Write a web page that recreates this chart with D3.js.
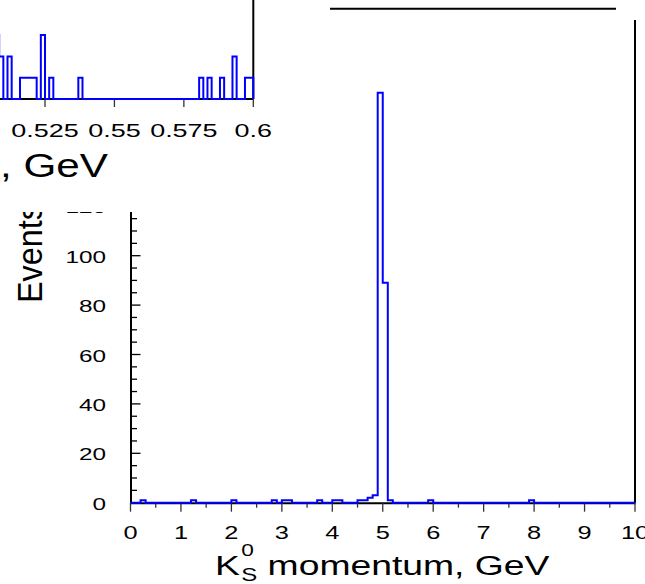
<!DOCTYPE html>
<html><head><meta charset="utf-8">
<script src="https://cdn.jsdelivr.net/npm/d3@7"></script>
<style>
html,body{margin:0;padding:0;background:#fff;}
svg{display:block;font-family:"Liberation Sans",Arial,Helvetica,sans-serif;}
</style>
</head><body>
<svg id="c" width="645" height="584"></svg>
<script>
// ---------- data ----------
// Main histogram: K0S momentum, 0.1 GeV bins from 0 to 10 GeV
const mainBinStart = 0;
const mainBinWidth = 0.1;
const mainCounts = [
  0,0,1,0,0,0,0,0,0,0,
  0,0,1,0,0,0,0,0,0,0,
  1,0,0,0,0,0,0,0,1,0,
  1,1,0,0,0,0,0,1,0,0,
  1,1,0,0,0,1,1,2,3,166,
  89,1,0,0,0,0,0,0,0,1,
  0,0,0,0,0,0,0,0,0,0,
  0,0,0,0,0,0,0,0,0,1,
  0,0,0,0,0,0,0,0,0,0,
  0,0,0,0,0,0,0,0,0,0
];
const mainXTicks = [0,1,2,3,4,5,6,7,8,9,10];
const mainXTickLabels = ["0","1","2","3","4","5","6","7","8","9","10"];
const mainYTicks = [0,20,40,60,80,100,120,140,160,180,200];
const mainYTickLabels = ["0","20","40","60","80","100","120","140","160","180","200"];
const mainXTitle = ["K", "0", "S", " momentum, GeV"]; // K, superscript, subscript, rest
const mainYTitle = "Events";

// Inset histogram (invariant mass), 0.0015 GeV bins, visible part from 0.507 GeV
const insetBinStart = 0.507;
const insetBinWidth = 0.0015;
const insetCounts = [
  3,2,0,2,0,0,1,1,1,1,0,3,0,1,
  0,0,0,0,0,0,
  1,
  0,0,0,0,0,0,0,0,0,0,0,0,0,0,0,0,0,0,0,0,0,0,0,0,0,0,0,0,
  1,0,1,0,0,1,0,0,2,0,0,1,1
];
const insetXTicks = [0.525, 0.55, 0.575, 0.6];
const insetXTickLabels = ["0.525","0.55","0.575","0.6"];
const insetXTitle = ", GeV";

// ---------- drawing ----------
const svg = d3.select("#c");
const blue = "#0000ff";

function histPath(x, y, start, width, counts, from) {
  const p = d3.path();
  p.moveTo(x(from), y(0));
  p.lineTo(x(start), y(0));
  counts.forEach((c, i) => {
    p.lineTo(x(start + i * width), y(c));
    p.lineTo(x(start + (i + 1) * width), y(c));
  });
  p.lineTo(x(start + counts.length * width), y(0));
  return p.toString();
}

// ----- main chart -----
const mx = d3.scaleLinear().domain([0, 10]).range([130.5, 635]);
const my = d3.scaleLinear().domain([0, 200]).range([502.7, 8.7]);
const gm = svg.append("g");

// y axis
const yAxis = d3.axisLeft(my).tickValues(mainYTicks).tickSize(0).tickFormat("");
gm.append("g").attr("transform", `translate(${mx(0)},0)`).call(yAxis)
  .call(g => g.select(".domain").attr("stroke", "#000").attr("stroke-width", 2));
const yMinor = d3.range(0, 201, 5);
gm.append("g").selectAll("line").data(yMinor).join("line")
  .attr("x1", mx(0)).attr("x2", d => mx(0) + (d % 20 === 0 ? 10 : 6.5))
  .attr("y1", d => my(d)).attr("y2", d => my(d))
  .attr("stroke", "#000").attr("stroke-width", 1.3);
// x axis
const xAxis = d3.axisBottom(mx).tickValues(mainXTicks).tickSize(0).tickFormat("");
gm.append("g").attr("transform", `translate(0,${my(0)})`).call(xAxis)
  .call(g => g.select(".domain").attr("stroke", "#000").attr("stroke-width", 2));
const xMinor = d3.range(0, 10.01, 0.5);
gm.append("g").selectAll("line").data(xMinor).join("line")
  .attr("x1", d => mx(d)).attr("x2", d => mx(d))
  .attr("y1", my(0)).attr("y2", d => my(0) + (Math.abs(d - Math.round(d)) < 1e-6 ? 9 : 5))
  .attr("stroke", "#333").attr("stroke-width", 1.3);

// tick labels
const tickSX = 1.45;
gm.append("g").selectAll("text").data(mainXTicks).join("text")
  .attr("transform", d => `translate(${mx(d)},539.3) scale(${tickSX},1)`)
  .attr("text-anchor", "middle").attr("font-size", 17.5).attr("fill", "#000")
  .text((d, i) => mainXTickLabels[i]);
gm.append("g").selectAll("text").data(mainYTicks).join("text")
  .attr("transform", d => `translate(106,${my(d) + 7})  scale(${tickSX},1)`)
  .attr("text-anchor", "end").attr("font-size", 16.8).attr("fill", "#000")
  .text((d, i) => mainYTickLabels[i]);

// frame (top and right)
gm.append("line").attr("x1", mx(0)).attr("x2", mx(10)).attr("y1", my(200)).attr("y2", my(200))
  .attr("stroke", "#000").attr("stroke-width", 2);
gm.append("line").attr("x1", mx(10)).attr("x2", mx(10)).attr("y1", my(200)).attr("y2", my(0))
  .attr("stroke", "#000").attr("stroke-width", 2);

// histogram
gm.append("path")
  .attr("d", histPath(mx, my, mainBinStart, mainBinWidth, mainCounts, 0))
  .attr("fill", "none").attr("stroke", blue).attr("stroke-width", 2);

// axis titles
gm.append("text")
  .attr("transform", "translate(42.3,303) rotate(-90) scale(0.9,1)")
  .attr("text-anchor", "start").attr("font-size", 36).attr("fill", "#000")
  .text(mainYTitle);

const tg = gm.append("g");
const kT = tg.append("text").attr("x", 0).attr("y", 0).attr("font-size", 28).text(mainXTitle[0]);
const kW = kT.node().getComputedTextLength();
const supT = tg.append("text").attr("x", kW + 1).attr("y", -19).attr("font-size", 17).text(mainXTitle[1]);
const subT = tg.append("text").attr("x", kW + 1).attr("y", 6).attr("font-size", 18).text(mainXTitle[2]);
const sw = Math.max(supT.node().getComputedTextLength(), subT.node().getComputedTextLength());
tg.append("text").attr("x", kW + 1 + sw).attr("y", 0).attr("font-size", 28)
  .style("white-space", "pre").attr("xml:space", "preserve").text(mainXTitle[3]);
{
  const bb = tg.node().getBBox();
  const sx = 335 / bb.width;
  tg.attr("transform", `translate(${215 - bb.x * sx},575) scale(${sx},1)`);
}

// ----- occluding areas (inset pad and corner) -----
svg.append("rect").attr("x", 0).attr("y", 0).attr("width", 330).attr("height", 212).attr("fill", "#fff");
svg.append("rect").attr("x", 616).attr("y", 0).attr("width", 29).attr("height", 20).attr("fill", "#fff");

// ----- inset -----
const ix = d3.scaleLinear().domain([0.525, 0.6]).range([45, 253.3]);
const iy = d3.scaleLinear().domain([0, 5]).range([99, -7.5]);
const gi = svg.append("g");

gi.append("line").attr("x1", 0).attr("x2", ix(0.6)).attr("y1", iy(0)).attr("y2", iy(0))
  .attr("stroke", "#000").attr("stroke-width", 2);
gi.append("g").selectAll("line").data(insetXTicks).join("line")
  .attr("x1", d => ix(d)).attr("x2", d => ix(d))
  .attr("y1", iy(0)).attr("y2", iy(0) + 8)
  .attr("stroke", "#333").attr("stroke-width", 1.3);
gi.append("line").attr("x1", ix(0.6)).attr("x2", ix(0.6)).attr("y1", 0).attr("y2", iy(0))
  .attr("stroke", "#000").attr("stroke-width", 2);

gi.append("path")
  .attr("d", histPath(ix, iy, insetBinStart, insetBinWidth, insetCounts, 0.5))
  .attr("fill", "none").attr("stroke", blue).attr("stroke-width", 2);

gi.append("g").selectAll("text").data(insetXTicks).join("text")
  .attr("transform", d => `translate(${ix(d)},136.7) scale(${tickSX},1)`)
  .attr("text-anchor", "middle").attr("font-size", 18.6).attr("fill", "#000")
  .text((d, i) => insetXTickLabels[i]);

const it = gi.append("text").attr("font-size", 33).attr("fill", "#000")
  .style("white-space", "pre").text(insetXTitle);
{
  const bb = it.node().getBBox();
  const sx = 108 / bb.width;
  it.attr("transform", `translate(${-bb.x * sx},177.3) scale(${sx},1)`);
}
</script>
</body></html>
